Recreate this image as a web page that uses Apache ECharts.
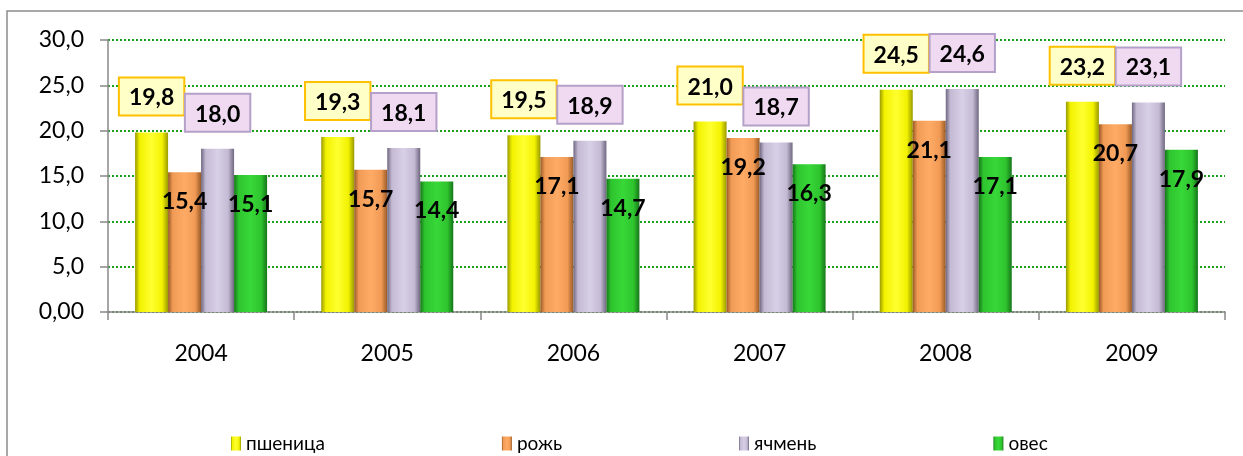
<html>
<head>
    <meta charset="UTF-8"/>
    <title>Урожайность зерновых</title>
</head>
<script src="https://cdn.jsdelivr.net/npm/echarts@6/dist/echarts.min.js"></script>
<body style="margin:0;background:#fff;">
<div id="chart" style="width:1243px;height:456px;"></div>
</body>
<script>
var years = ['2004', '2005', '2006', '2007', '2008', '2009'];
var wheat = [19.8, 19.3, 19.5, 21.0, 24.5, 23.2];
var rye = [15.4, 15.7, 17.1, 19.2, 21.1, 20.7];
var barley = [18.0, 18.1, 18.9, 18.7, 24.6, 23.1];
var oats = [15.1, 14.4, 14.7, 16.3, 17.1, 17.9];
var names = ['пшеница', 'рожь', 'ячмень', 'овес'];

var font = 'Lato, "Noto Sans", sans-serif';

function bevel(edge, mid, light) {
    return {
        type: 'linear', x: 0, y: 0, x2: 1, y2: 0,
        colorStops: [
            {offset: 0, color: edge},
            {offset: 0.14, color: mid},
            {offset: 0.5, color: light},
            {offset: 0.82, color: mid},
            {offset: 1, color: edge}
        ]
    };
}
function fmt(v) { return v.toFixed(1).replace('.', ','); }

var boxLabel = function (bg, border) {
    return {
        show: true,
        position: 'top',
        distance: 18,
        formatter: function (p) { return fmt(p.value); },
        fontFamily: font,
        fontSize: 23,
        fontWeight: 'bold',
        color: '#000',
        backgroundColor: bg,
        borderColor: border,
        borderWidth: 2,
        padding: [8, 9, 5, 9]
    };
};
var innerLabel = {
    show: true,
    position: 'insideTop',
    distance: 18,
    formatter: function (p) { return fmt(p.value); },
    fontFamily: font,
    fontSize: 23,
    fontWeight: 'bold',
    color: '#000'
};

var myChart = echarts.init(document.getElementById('chart'));
var option = {
    animation: false,
    backgroundColor: '#fff',
    graphic: [{
        type: 'rect',
        shape: {x: 7, y: 11, width: 1300, height: 500},
        style: {fill: 'none', stroke: '#8c8c8c', lineWidth: 1.5},
        silent: true
    }],
    grid: {left: 108, right: 18, top: 40, bottom: 144},
    legend: {
        left: 226,
        top: 429,
        itemWidth: 10,
        itemHeight: 14,
        itemGap: 177,
        icon: 'rect',
        textStyle: {fontFamily: font, fontSize: 19, color: '#000'},
        data: names
    },
    xAxis: {
        type: 'category',
        data: years,
        axisLine: {lineStyle: {color: '#888', width: 1.5}},
        axisTick: {show: true, length: 8, lineStyle: {color: '#888', width: 1.5}},
        axisLabel: {fontFamily: font, fontSize: 23, color: '#000', margin: 30}
    },
    yAxis: {
        type: 'value',
        min: 0,
        max: 30,
        interval: 5,
        axisLine: {show: true, lineStyle: {color: '#888', width: 1.5}},
        axisTick: {show: true, length: 8, lineStyle: {color: '#888', width: 1.5}},
        axisLabel: {
            fontFamily: font, fontSize: 23, color: '#000', margin: 24,
            formatter: function (v) { return v === 0 ? '0,00' : fmt(v); }
        },
        splitLine: {lineStyle: {color: '#1aa01a', width: 2, type: [2, 2]}}
    },
    series: [
        {
            name: names[0], type: 'bar', data: wheat, barWidth: 33, barGap: '0%',
            itemStyle: {color: bevel('#9a9a00', '#f2f200', '#ffff30')},
            label: boxLabel('#ffffc8', '#ffc000')
        },
        {
            name: names[1], type: 'bar', data: rye, barWidth: 33, barGap: '0%',
            itemStyle: {color: bevel('#9a5a25', '#f09a55', '#ffab66')},
            label: innerLabel
        },
        {
            name: names[2], type: 'bar', data: barley, barWidth: 33, barGap: '0%',
            itemStyle: {color: bevel('#6f6680', '#c4bad4', '#d8d0e6')},
            label: boxLabel('#f0daf2', '#b4a0c8')
        },
        {
            name: names[3], type: 'bar', data: oats, barWidth: 33, barGap: '0%',
            itemStyle: {color: bevel('#17761a', '#2ec42e', '#38d838')},
            label: innerLabel
        }
    ]
};
myChart.setOption(option);
</script>
</html>
